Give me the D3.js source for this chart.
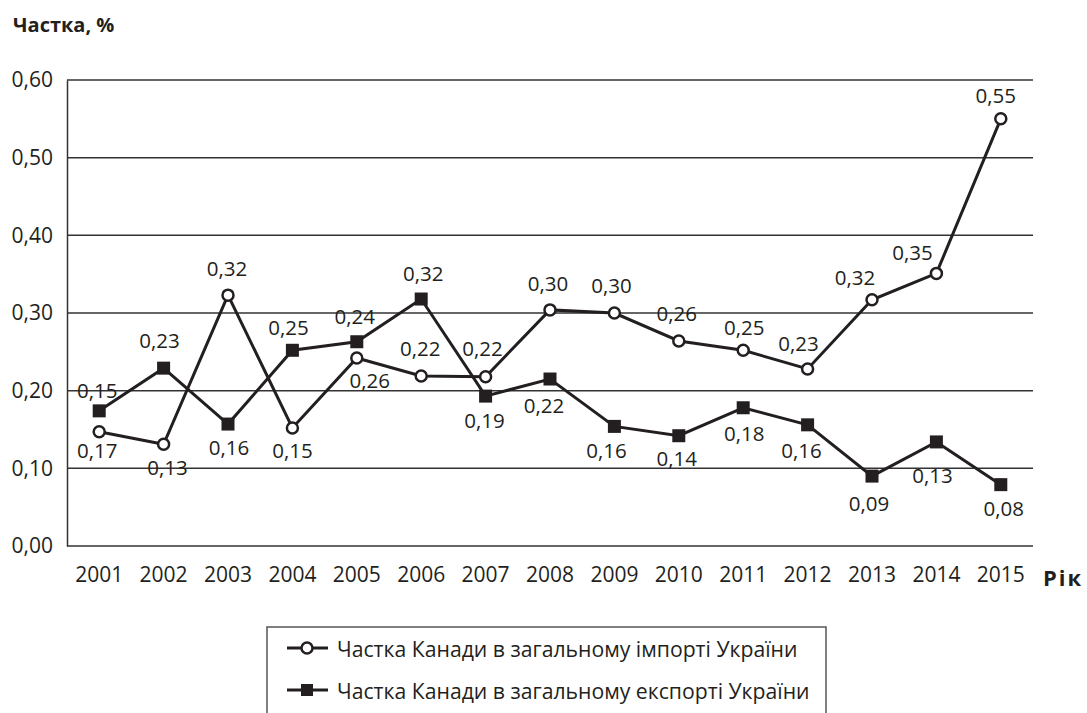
<!DOCTYPE html>
<html>
<head>
<meta charset="utf-8">
<script src="https://cdn.jsdelivr.net/npm/d3@7/dist/d3.min.js"></script>
<style>
  html, body { margin: 0; padding: 0; background: #fff; }
  svg text { font-family: "Open Sans", "Noto Sans", sans-serif; fill: #231f20; }
</style>
</head>
<body>
<svg id="chart" width="1087" height="713"></svg>
<script>
// ---- Data ----
const years = ["2001","2002","2003","2004","2005","2006","2007","2008","2009","2010","2011","2012","2013","2014","2015"];
const importShare = [0.147, 0.131, 0.323, 0.152, 0.242, 0.219, 0.218, 0.304, 0.300, 0.264, 0.252, 0.228, 0.317, 0.351, 0.550];
const exportShare = [0.174, 0.229, 0.157, 0.252, 0.263, 0.318, 0.193, 0.215, 0.154, 0.142, 0.178, 0.156, 0.090, 0.134, 0.079];
const importLabels = ["0,17","0,13","0,32","0,15","0,26","0,22","0,22","0,30","0,30","0,26","0,25","0,23","0,32","0,35","0,55"];
const exportLabels = ["0,15","0,23","0,16","0,25","0,24","0,32","0,19","0,22","0,16","0,14","0,18","0,16","0,09","0,13","0,08"];
const yTicks = [0, 0.1, 0.2, 0.3, 0.4, 0.5, 0.6];
const yTickLabels = ["0,00","0,10","0,20","0,30","0,40","0,50","0,60"];
const seriesNames = ["Частка Канади в загальному імпорті України", "Частка Канади в загальному експорті України"];
const yTitle = "Частка, %";
const xTitle = "Рік";

// ---- Layout (label placement offsets, px) ----
const importLabelOffsets = [[-2,18],[4,23],[-1,-27],[0,22],[13,22],[-1,-28],[-3,-29],[-2,-27],[-3,-28],[-2,-28],[1,-23],[-9,-26],[-17,-23],[-24,-21],[-5,-24]];
const exportLabelOffsets = [[-2,-21],[-4,-28],[1,23],[-4,-23],[-2,-26],[2,-26],[-1,24],[-6,26],[-8,24],[-2,22],[1,25],[-6,25],[-3,27],[-4,33],[3,23]];

const ink = "#231f20";
const svg = d3.select("#chart");
const mLeft = 67, mRight = 1033, mTop = 80, mBottom = 546;

const x = d3.scaleBand().domain(years).range([mLeft, mRight]);
const y = d3.scaleLinear().domain([0, 0.6]).range([mBottom, mTop]);
const cx = d => x(d) + x.bandwidth() / 2;

// Gridlines
svg.append("g").selectAll("line").data(yTicks.filter(t => t > 0)).join("line")
  .attr("x1", mLeft).attr("x2", mRight)
  .attr("y1", d => y(d)).attr("y2", d => y(d))
  .attr("stroke", "#333").attr("stroke-width", 1.5);

// Axes
const yAxis = d3.axisLeft(y).tickValues(yTicks).tickSize(0).tickPadding(14)
  .tickFormat((d, i) => yTickLabels[i]);
const gy = svg.append("g").attr("transform", `translate(${mLeft},0)`).call(yAxis);
gy.select(".domain").attr("stroke", "#333").attr("stroke-width", 1.5);
gy.selectAll("text").attr("font-size", 21).attr("fill", ink)
  .attr("font-family", "'Open Sans', sans-serif");

const xAxis = d3.axisBottom(x).tickSize(0).tickPadding(21);
const gx = svg.append("g").attr("transform", `translate(0,${mBottom})`).call(xAxis);
gx.select(".domain").attr("d", `M${mLeft},0H${mRight}`).attr("stroke", "#333").attr("stroke-width", 1.5);
gx.selectAll("text").attr("font-size", 21).attr("fill", ink)
  .attr("font-family", "'Open Sans', sans-serif");

// Titles
svg.append("text").attr("x", 13).attr("y", 32).attr("font-size", 20).attr("font-weight", "bold").text(yTitle);
svg.append("text").attr("x", 1043).attr("y", 586).attr("font-size", 22).attr("font-weight", "bold")
  .attr("letter-spacing", 2).text(xTitle);

// Lines
const line = d3.line().x((d, i) => cx(years[i])).y(d => y(d));
svg.append("path").datum(importShare).attr("d", line).attr("fill", "none").attr("stroke", ink).attr("stroke-width", 3);
svg.append("path").datum(exportShare).attr("d", line).attr("fill", "none").attr("stroke", ink).attr("stroke-width", 3);

// Markers
svg.append("g").selectAll("circle").data(importShare).join("circle")
  .attr("cx", (d, i) => cx(years[i])).attr("cy", d => y(d)).attr("r", 5.5)
  .attr("fill", "#fff").attr("stroke", ink).attr("stroke-width", 2.5);
const sq = 13;
svg.append("g").selectAll("rect").data(exportShare).join("rect")
  .attr("x", (d, i) => cx(years[i]) - sq / 2).attr("y", d => y(d) - sq / 2)
  .attr("width", sq).attr("height", sq).attr("fill", ink);

// Data labels
function labels(values, texts, offs) {
  svg.append("g").selectAll("text").data(values).join("text")
    .attr("x", (d, i) => cx(years[i]) + offs[i][0])
    .attr("y", (d, i) => y(d) + offs[i][1])
    .attr("text-anchor", "middle").attr("dominant-baseline", "central")
    .attr("font-size", 20.5)
    .text((d, i) => texts[i]);
}
labels(importShare, importLabels, importLabelOffsets);
labels(exportShare, exportLabels, exportLabelOffsets);

// Legend
const lg = svg.append("g");
lg.append("path").attr("d", "M267,740V627H826V740").attr("fill", "none").attr("stroke", "#555").attr("stroke-width", 1.5);
const rows = [648, 690];
rows.forEach((ry, i) => {
  lg.append("line").attr("x1", 287).attr("x2", 328).attr("y1", ry).attr("y2", ry)
    .attr("stroke", ink).attr("stroke-width", 3);
  if (i === 0) {
    lg.append("circle").attr("cx", 307).attr("cy", ry).attr("r", 5.5)
      .attr("fill", "#fff").attr("stroke", ink).attr("stroke-width", 2.5);
  } else {
    lg.append("rect").attr("x", 307 - 6).attr("y", ry - 6).attr("width", 12).attr("height", 12).attr("fill", ink);
  }
  lg.append("text").attr("x", 337).attr("y", ry).attr("dominant-baseline", "central")
    .attr("font-size", 21.2).text(seriesNames[i]);
});
</script>
</body>
</html>
